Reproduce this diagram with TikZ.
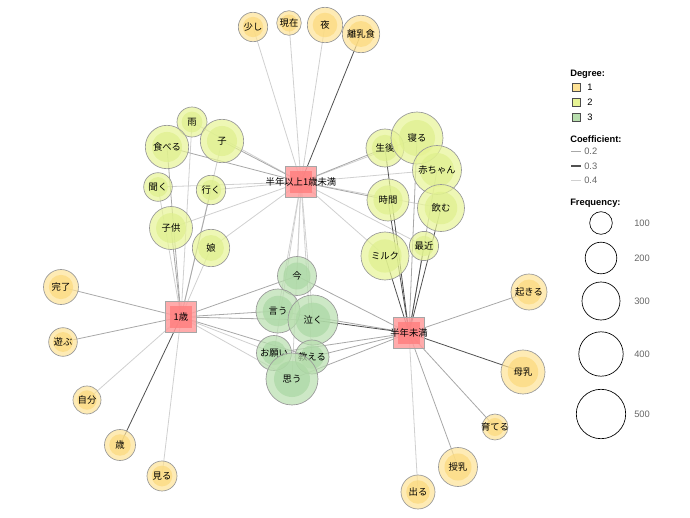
\documentclass[tikz,border=0pt]{standalone}
\usepackage{fontspec}
\setmainfont{Liberation Sans}
\newfontfamily\jp{Noto Sans CJK JP}
\pgfdeclarelayer{bg}
\pgfsetlayers{bg,main}
\definecolor{d1out}{HTML}{FEE295}
\definecolor{d1in}{HTML}{FCDA7D}
\definecolor{d2out}{HTML}{E7F495}
\definecolor{d2in}{HTML}{DEF08E}
\definecolor{d3out}{HTML}{B8DEAE}
\definecolor{d3in}{HTML}{ABD8A4}
\definecolor{sqout}{HTML}{FF9C9C}
\definecolor{sqin}{HTML}{FF8080}
\definecolor{eA}{HTML}{D0D0D0}
\definecolor{eB}{HTML}{A8A8A8}
\definecolor{eC}{HTML}{505050}
\tikzset{
  x=0.75pt, y=-0.75pt,
  wd/.style={circle, draw=black!40, line width=0.5pt, fill opacity=0.7, text opacity=1,
    inner sep=0pt, font=\jp\fontsize{7}{8}\selectfont},
  d1/.style={wd, fill=d1out},
  d2/.style={wd, fill=d2out},
  d3/.style={wd, fill=d3out},
  sq/.style={rectangle, draw=black!35, line width=0.5pt, fill=sqout, fill opacity=0.85, text opacity=1,
    inner sep=0pt, minimum size=23.25pt, font=\jp\fontsize{7}{8}\selectfont,
    path picture={\fill[sqin] ([shift={(-8pt,-8pt)}]path picture bounding box.center) rectangle ([shift={(8pt,8pt)}]path picture bounding box.center);}},
  edge/.style={line width=0.6pt},
  leg/.style={font=\fontsize{7}{8}\selectfont, inner sep=0pt, anchor=west},
  legb/.style={font=\bfseries\fontsize{7}{8}\selectfont, inner sep=0pt, anchor=west},
  lbox/.style={draw=black!70, line width=0.5pt, minimum size=6pt, inner sep=0pt},
  lcirc/.style={circle, draw=black, line width=0.5pt, inner sep=0pt}
}
\newcommand\wn[6]{\node[#5, minimum size=#4*1.5pt,
  path picture={\fill[#5in] (path picture bounding box.center) circle[radius=#4*0.52pt];}]
  (#1) at (#2,#3) {\makebox[0pt]{#6}};}
\begin{document}
\begin{tikzpicture}
\useasboundingbox (0,0) rectangle (690,518);
% square nodes
\node[sq] (sA) at (301,182) {\makebox[0pt]{半年以上1歳未満}};
\node[sq] (sB) at (181,317) {\makebox[0pt]{1歳}};
\node[sq] (sC) at (409,333) {\makebox[0pt]{半年未満}};
% degree 1 top
\wn{shoshi}{253}{27}{14.7}{d1}{少し}
\wn{genzai}{289}{23}{12.3}{d1}{現在}
\wn{yoru}{325}{25}{17.7}{d1}{夜}
\wn{rinyu}{361}{34}{18.7}{d1}{離乳食}
% degree 2 left
\wn{ame}{192}{122}{15}{d2}{雨}
\wn{ko}{222}{141}{21.7}{d2}{子}
\wn{taberu}{167}{147}{21.7}{d2}{食べる}
\wn{kiku}{158}{187}{14.3}{d2}{聞く}
\wn{iku}{211}{190}{14.7}{d2}{行く}
\wn{kodomo}{171}{228}{21.5}{d2}{子供}
\wn{musume}{211}{248}{18.7}{d2}{娘}
% degree 2 right
\wn{seigo}{385}{148}{19}{d2}{生後}
\wn{neru}{417}{138}{26}{d2}{寝る}
\wn{akachan}{437}{170}{24.5}{d2}{赤ちゃん}
\wn{jikan}{388}{200}{21}{d2}{時間}
\wn{nomu}{441}{208}{23.5}{d2}{飲む}
\wn{saikin}{424}{246}{14.6}{d2}{最近}
\wn{miruku}{385}{256}{24}{d2}{ミルク}
% degree 3
\wn{ima}{297}{276}{19.5}{d3}{今}
\wn{iu}{278}{311}{22}{d3}{言う}
\wn{naku}{313}{320}{25}{d3}{泣く}
\wn{onegai}{274}{353}{17.5}{d3}{お願い}
\wn{oshieru}{312}{357}{17}{d3}{教える}
\wn{omou}{292}{379}{26}{d3}{思う}
% degree 1 left
\wn{kanryo}{61}{287}{17.5}{d1}{完了}
\wn{asobu}{63}{342}{14.3}{d1}{遊ぶ}
\wn{jibun}{87}{400}{14}{d1}{自分}
\wn{sai}{120}{445}{15.5}{d1}{歳}
\wn{miru}{162}{476}{15}{d1}{見る}
% degree 1 right
\wn{okiru}{529}{292}{18}{d1}{起きる}
\wn{bonyu}{523}{372}{22}{d1}{母乳}
\wn{sodateru}{495}{427}{13}{d1}{育てる}
\wn{junyu}{458}{467}{19.5}{d1}{授乳}
\wn{deru}{418}{492}{17}{d1}{出る}
% edges
\begin{pgfonlayer}{bg}
\foreach \a/\b in {shoshi/sA, genzai/sA, yoru/sA, ame/sA, ame/sB, ko/sB, kiku/sA, kiku/sB,
  iku/sA, kodomo/sA, musume/sA, musume/sB, neru/sA, akachan/sA, nomu/sA, saikin/sA, miruku/sA,
  ima/sA, iu/sA, naku/sA, onegai/sA, onegai/sB, oshieru/sA, omou/sA, omou/sB, jibun/sB, miru/sB, deru/sC}
  \draw[edge, draw=eA] (\a.center) -- (\b.center);
\foreach \a/\b in {ko/sA, taberu/sA, taberu/sB, iku/sB, kodomo/sB, seigo/sA, jikan/sA, neru/sC, akachan/sC,
  ima/sB, ima/sC, iu/sB, iu/sC, naku/sB, onegai/sC, oshieru/sB, oshieru/sC, omou/sC,
  kanryo/sB, asobu/sB, okiru/sC, sodateru/sC, junyu/sC}
  \draw[edge, draw=eB] (\a.center) -- (\b.center);
\foreach \a/\b in {rinyu/sA, seigo/sC, jikan/sC, nomu/sC, saikin/sC, miruku/sC, naku/sC, sai/sB, bonyu/sC}
  \draw[edge, draw=eC] (\a.center) -- (\b.center);
\end{pgfonlayer}
% legend
\node[legb] (lgD) at (570,74) {Degree:};
\node[lbox, fill=d1out] (lb1) at (576,87) {};
\node[lbox, fill=d2out] (lb2) at (576,102) {};
\node[lbox, fill=d3out] (lb3) at (576,117) {};
\node[leg] at (587,87) {1};
\node[leg] at (587,102) {2};
\node[leg] at (587,117) {3};
\node[legb] (lgC) at (570,139) {Coefficient:};
\draw[edge, draw=eB] (571,151) -- (581,151);
\draw[edge, draw=eC, line width=0.8pt] (571,166) -- (581,166);
\draw[edge, draw=eA] (571,180) -- (581,180);
\node[leg, text=black!60] at (584,151) {0.2};
\node[leg, text=black!60] at (584,166) {0.3};
\node[leg, text=black!60] at (584,180) {0.4};
\node[legb] (lgF) at (570,203) {Frequency:};
\node[lcirc, minimum size=11.3*1.5pt] at (601,223) {};
\node[lcirc, minimum size=15.8*1.5pt] at (601,258) {};
\node[lcirc, minimum size=19*1.5pt] at (601,301) {};
\node[lcirc, minimum size=22.2*1.5pt] at (601,354) {};
\node[lcirc, minimum size=24.7*1.5pt] at (601,414) {};
\node[leg, text=black!60] at (634,223) {100};
\node[leg, text=black!60] at (634,258) {200};
\node[leg, text=black!60] at (634,301) {300};
\node[leg, text=black!60] at (634,354) {400};
\node[leg, text=black!60] at (634,414) {500};
\end{tikzpicture}
\end{document}
